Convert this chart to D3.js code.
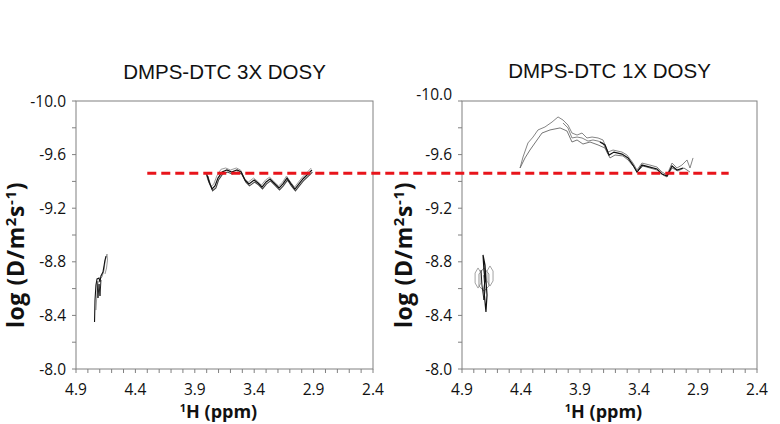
<!DOCTYPE html>
<html lang="en">
<head>
    <meta charset="UTF-8">
    <title>DMPS-DTC DOSY</title>
    <script src="https://d3js.org/d3.v7.min.js" charset="utf-8"></script>
    <style>
        body { margin: 0; background: white; }
        .tick-label { font-family: "Open Sans", sans-serif; font-size: 15.5px; fill: #111; }
        .title { font-family: "Liberation Sans", Arial, sans-serif; font-size: 20.5px; fill: #111; }
        .axis-title { font-family: "Open Sans", sans-serif; font-weight: bold; fill: #111; }
    </style>
</head>
<body>
<script>
    // ppm (x) ticks and logD (y) ticks
    var xTicks = [4.9, 4.4, 3.9, 3.4, 2.9, 2.4];
    var yTicks = [-10.0, -9.6, -9.2, -8.8, -8.4, -8.0];
    var titles = ["DMPS-DTC 3X DOSY", "DMPS-DTC 1X DOSY"];

    // reference level of the dashed line (logD), start ppm on left plot, end ppm on right plot
    var refLogD = -9.46;
    var refStart = 4.3;
    var refEnd = 2.64;

    // contour traces, [ppm, logD]
    var left3xUpper = [[3.81,-9.47],[3.79,-9.41],[3.765,-9.36],[3.74,-9.38],[3.715,-9.44],[3.68,-9.49],[3.64,-9.50],[3.60,-9.485],[3.55,-9.50],[3.515,-9.485],[3.485,-9.425],[3.45,-9.395],[3.405,-9.425],[3.37,-9.40],[3.34,-9.372],[3.305,-9.41],[3.27,-9.432],[3.236,-9.40],[3.195,-9.366],[3.16,-9.395],[3.128,-9.44],[3.094,-9.395],[3.06,-9.357],[3.027,-9.395],[2.994,-9.432],[2.952,-9.47],[2.92,-9.50]];
    var left3xMid = [[3.80,-9.455],[3.78,-9.396],[3.755,-9.343],[3.73,-9.366],[3.705,-9.425],[3.67,-9.47],[3.63,-9.485],[3.59,-9.47],[3.545,-9.485],[3.51,-9.47],[3.477,-9.41],[3.444,-9.381],[3.40,-9.41],[3.368,-9.388],[3.334,-9.358],[3.30,-9.396],[3.267,-9.418],[3.233,-9.388],[3.19,-9.351],[3.158,-9.381],[3.124,-9.425],[3.09,-9.381],[3.057,-9.343],[3.023,-9.381],[2.99,-9.418],[2.947,-9.455],[2.914,-9.485]];
    var left3xLower = [[3.79,-9.44],[3.772,-9.385],[3.75,-9.33],[3.722,-9.352],[3.70,-9.41],[3.665,-9.455],[3.625,-9.47],[3.585,-9.455],[3.54,-9.47],[3.505,-9.455],[3.47,-9.395],[3.44,-9.367],[3.397,-9.395],[3.364,-9.374],[3.33,-9.344],[3.296,-9.382],[3.263,-9.404],[3.229,-9.374],[3.187,-9.337],[3.155,-9.367],[3.12,-9.41],[3.087,-9.367],[3.053,-9.33],[3.02,-9.367],[2.986,-9.404],[2.944,-9.44],[2.91,-9.47]];
    var left3xWaterA = [[4.744,-8.351],[4.74,-8.515],[4.732,-8.627],[4.723,-8.672],[4.706,-8.679],[4.698,-8.649],[4.69,-8.694],[4.673,-8.724],[4.664,-8.769],[4.656,-8.813],[4.647,-8.843]];
    var left3xWaterB = [[4.732,-8.44],[4.723,-8.575],[4.715,-8.642],[4.698,-8.672],[4.681,-8.687],[4.664,-8.739],[4.656,-8.799],[4.647,-8.836],[4.639,-8.858],[4.635,-8.813],[4.643,-8.754],[4.656,-8.709]];
    var left3xWaterC = [[4.723,-8.657],[4.715,-8.53],[4.706,-8.634],[4.698,-8.545],[4.69,-8.664]];

    var right1xUpper = [[4.408,-9.5],[4.383,-9.582],[4.341,-9.687],[4.298,-9.731],[4.256,-9.784],[4.197,-9.806],[4.137,-9.843],[4.086,-9.881],[4.044,-9.858],[4.002,-9.821],[3.968,-9.761],[3.925,-9.746],[3.883,-9.761],[3.841,-9.724],[3.798,-9.731],[3.747,-9.724],[3.705,-9.709],[3.663,-9.619],[3.620,-9.634],[3.544,-9.619],[3.502,-9.597],[3.451,-9.537],[3.417,-9.485],[3.375,-9.537],[3.307,-9.522],[3.247,-9.507],[3.205,-9.470],[3.163,-9.448],[3.120,-9.537],[3.078,-9.5],[3.036,-9.522],[2.993,-9.560],[2.968,-9.5],[2.942,-9.575]];
    var right1xMidGray = [[4.044,-9.836],[4.002,-9.799],[3.968,-9.724],[3.925,-9.731],[3.883,-9.724],[3.832,-9.701],[3.79,-9.709],[3.747,-9.701],[3.705,-9.687],[3.663,-9.604]];
    var right1xLower = [[4.408,-9.5],[4.366,-9.575],[4.324,-9.634],[4.264,-9.709],[4.222,-9.761],[4.154,-9.784],[4.069,-9.799],[4.01,-9.776],[3.968,-9.694],[3.925,-9.709],[3.875,-9.679],[3.815,-9.694],[3.747,-9.672],[3.688,-9.649],[3.646,-9.575],[3.603,-9.597],[3.536,-9.590],[3.493,-9.560],[3.442,-9.507],[3.417,-9.470],[3.366,-9.515],[3.307,-9.5],[3.247,-9.485],[3.197,-9.448],[3.163,-9.433],[3.12,-9.5],[3.07,-9.478],[3.019,-9.5],[2.968,-9.47]];
    var right1xBlack = [[3.731,-9.694],[3.688,-9.672],[3.654,-9.597],[3.612,-9.619],[3.544,-9.604],[3.493,-9.575],[3.451,-9.522],[3.417,-9.47],[3.375,-9.522],[3.307,-9.507],[3.247,-9.493],[3.205,-9.455],[3.163,-9.44],[3.12,-9.515],[3.078,-9.485],[3.027,-9.5]];
    var right1xWaterSpike = [[4.722,-8.851],[4.714,-8.739],[4.705,-8.664],[4.714,-8.59],[4.697,-8.425],[4.688,-8.552],[4.697,-8.664],[4.705,-8.776],[4.722,-8.851]];
    var right1xWaterSpike2 = [[4.739,-8.739],[4.731,-8.627],[4.714,-8.515],[4.705,-8.59],[4.714,-8.70]];
    var right1xLoopA = [[4.764,-8.754],[4.739,-8.716],[4.739,-8.642],[4.764,-8.604],[4.789,-8.642],[4.789,-8.716],[4.764,-8.754]];
    var right1xLoopB = [[4.663,-8.769],[4.637,-8.731],[4.637,-8.657],[4.663,-8.619],[4.688,-8.657],[4.688,-8.731],[4.663,-8.769]];
    var right1xLoopC = [[4.714,-8.754],[4.672,-8.709],[4.672,-8.619],[4.714,-8.582],[4.756,-8.619],[4.756,-8.709],[4.714,-8.754]];

    var width = 780;
    var height = 424;

    var svg = d3.select("body")
                .append("svg")
                .attr("width", width)
                .attr("height", height);

    var axisColor = "#808080";

    // one panel per spectrum
    var panels = [
        { left: 76, right: 373, title: titles[0], titleY: 79, labelX: 24,
          traces: [
            { d: left3xUpper, c: "#9a9a9a", w: 1 },
            { d: left3xLower, c: "#444", w: 1.1 },
            { d: left3xMid, c: "#111", w: 1.2 },
            { d: left3xWaterB, c: "#999", w: 1 },
            { d: left3xWaterA, c: "#111", w: 1.1 },
            { d: left3xWaterC, c: "#222", w: 1 }
          ] },
        { left: 462, right: 757, title: titles[1], titleY: 78, labelX: 412,
          traces: [
            { d: right1xUpper, c: "#777", w: 0.9 },
            { d: right1xMidGray, c: "#777", w: 0.9 },
            { d: right1xLower, c: "#666", w: 0.9 },
            { d: right1xBlack, c: "#111", w: 1.2 },
            { d: right1xLoopA, c: "#999", w: 0.9 },
            { d: right1xLoopB, c: "#999", w: 0.9 },
            { d: right1xLoopC, c: "#888", w: 0.9 },
            { d: right1xWaterSpike2, c: "#222", w: 1 },
            { d: right1xWaterSpike, c: "#111", w: 1.2 }
          ] }
    ];

    var plotTop = 101, plotBottom = 369;

    panels.forEach(function (p, i) {
        var x = d3.scaleLinear().domain([4.9, 2.4]).range([p.left, p.right]);
        var y = d3.scaleLinear().domain([-10, -8]).range([plotTop, plotBottom]);
        p.x = x; p.y = y;

        var g = svg.append("g");

        // frame
        g.append("rect")
            .attr("x", p.left).attr("y", plotTop)
            .attr("width", p.right - p.left).attr("height", plotBottom - plotTop)
            .attr("fill", "none").attr("stroke", axisColor).attr("stroke-width", 1);

        // x ticks every 0.1
        var xt = d3.range(0, 26).map(function (k) { return 4.9 - k * 0.1; });
        g.selectAll(".xt").data(xt).enter().append("line")
            .attr("x1", function (d) { return x(d); }).attr("x2", function (d) { return x(d); })
            .attr("y1", plotBottom).attr("y2", plotBottom + 4)
            .attr("stroke", axisColor);

        // y ticks every 0.2
        var yt = d3.range(0, 11).map(function (k) { return -10 + k * 0.2; });
        g.selectAll(".yt").data(yt).enter().append("line")
            .attr("x1", p.left - 4).attr("x2", p.left)
            .attr("y1", function (d) { return y(d); }).attr("y2", function (d) { return y(d); })
            .attr("stroke", axisColor);

        g.selectAll(".xl").data(xTicks).enter().append("text")
            .attr("class", "tick-label")
            .attr("x", function (d) { return x(d); })
            .attr("y", 395)
            .attr("text-anchor", "middle")
            .text(function (d) { return d.toFixed(1); });

        g.selectAll(".yl").data(yTicks).enter().append("text")
            .attr("class", "tick-label")
            .attr("x", p.left - 10)
            .attr("y", function (d) { return y(d); })
            .attr("dy", function (d) { return (i == 1 && d == -10) ? "-0.05em" : "0.36em"; })
            .attr("text-anchor", "end")
            .text(function (d) { return d.toFixed(1); });

        // titles
        svg.append("text")
            .attr("class", "title")
            .attr("x", (p.left + p.right) / 2)
            .attr("y", p.titleY)
            .attr("text-anchor", "middle")
            .text(p.title);

        // x axis title
        var xtitle = svg.append("text")
            .attr("class", "axis-title")
            .attr("x", (p.left + p.right) / 2 - 6)
            .attr("y", 418)
            .attr("text-anchor", "middle")
            .style("font-size", "18px");
        xtitle.append("tspan").attr("dy", -6).style("font-size", "11px").text("1");
        xtitle.append("tspan").attr("dy", 6).text("H (ppm)");

        // y axis title
        var ytitle = svg.append("text")
            .attr("class", "axis-title")
            .attr("transform", "translate(" + p.labelX + ",255) rotate(-90)")
            .attr("text-anchor", "middle")
            .style("font-size", "23px")
            .style("letter-spacing", "0.6px");
        ytitle.append("tspan").text("log (D/m");
        ytitle.append("tspan").attr("dy", -8).style("font-size", "15px").text("2");
        ytitle.append("tspan").attr("dy", 8).text("s");
        ytitle.append("tspan").attr("dy", -8).style("font-size", "15px").text("-1");
        ytitle.append("tspan").attr("dy", 8).text(")");

        // contours
        var line = d3.line()
            .x(function (d) { return x(d[0]); })
            .y(function (d) { return y(d[1]); })
            .curve(d3.curveLinear);

        g.selectAll(".trace").data(p.traces).enter().append("path")
            .attr("d", function (t) { return line(t.d); })
            .attr("fill", "none")
            .attr("stroke", function (t) { return t.c; })
            .attr("stroke-width", function (t) { return t.w; });
    });

    // dashed reference line across both panels
    svg.append("line")
        .attr("x1", panels[0].x(refStart))
        .attr("x2", panels[1].x(refEnd))
        .attr("y1", panels[0].y(refLogD))
        .attr("y2", panels[0].y(refLogD))
        .attr("stroke", "#e8141b")
        .attr("stroke-width", 3)
        .attr("stroke-dasharray", "9,5");
</script>
</body>
</html>
